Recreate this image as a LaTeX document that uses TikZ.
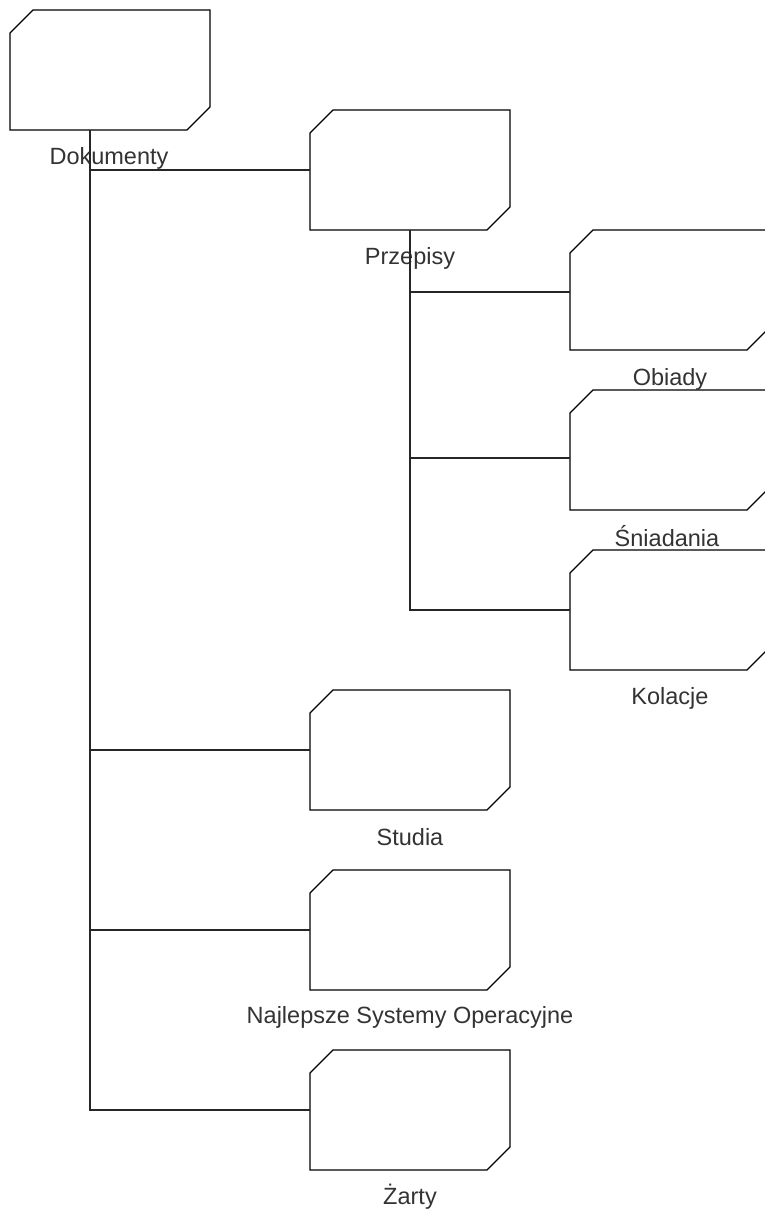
\documentclass[tikz,border=0pt]{standalone}
\usepackage{fontspec}
\setmainfont{Liberation Sans}
\usetikzlibrary{calc}
\definecolor{lbl}{HTML}{333333}
\tikzset{
  folder/.style={rectangle, draw=none, minimum width=200pt, minimum height=120pt,
    inner sep=0pt, outer sep=0pt},
  folderline/.style={draw=black, line width=1.2pt, fill=white, line join=miter},
  lab/.style={text=lbl, font=\fontsize{23.5}{28}\selectfont, inner sep=0pt, anchor=center},
  link/.style={draw=black!85, line width=1.2pt}
}
\newcommand{\mkfolder}[3]{%
  \node[folder] (#1) at (#2,#3) {};
  \path[folderline] ($(#1.north west)+(23,0)$) -- (#1.north east) -- ($(#1.south east)+(0,-23)$)
    -- ($(#1.south east)+(-23,0)$) -- (#1.south west) -- ($(#1.north west)+(0,23)$) -- cycle;
}
\begin{document}
\begin{tikzpicture}[x=1pt,y=-1pt]
\clip (0,0) rectangle (765,1210);
\useasboundingbox (0,0) rectangle (765,1210);
\fill[white] (0,0) rectangle (765,1210);
% boxes
\mkfolder{dok}{110}{70}
\mkfolder{prz}{410}{170}
\mkfolder{obi}{670}{290}
\mkfolder{sni}{670}{450}
\mkfolder{kol}{670}{610}
\mkfolder{stu}{410}{750}
\mkfolder{naj}{410}{930}
\mkfolder{zar}{410}{1110}
% labels
\node[lab] (dokL) at (109,158) {Dokumenty};
\node[lab] (przL) at (410,258) {Przepisy};
\node[lab] (obiL) at (670,379) {Obiady};
\node[lab] (sniL) at (667,536) {Śniadania};
\node[lab] (kolL) at (670,698) {Kolacje};
\node[lab] (stuL) at (410,837) {Studia};
\node[lab] (najL) at (410,1017) {Najlepsze Systemy Operacyjne};
\node[lab] (zarL) at (410,1197) {Żarty};
% connectors
\coordinate (dokOut) at ($(dok.south west)+(80,0)$);
\path[link] (dokOut) |- (prz.west);
\path[link] (dokOut) |- (stu.west);
\path[link] (dokOut) |- (naj.west);
\path[link] (dokOut) |- (zar.west);
\path[link] (prz.south) |- ($(obi.west)+(0,2)$);
\path[link] (prz.south) |- ($(sni.west)+(0,8)$);
\path[link] (prz.south) |- (kol.west);
\end{tikzpicture}
\end{document}
